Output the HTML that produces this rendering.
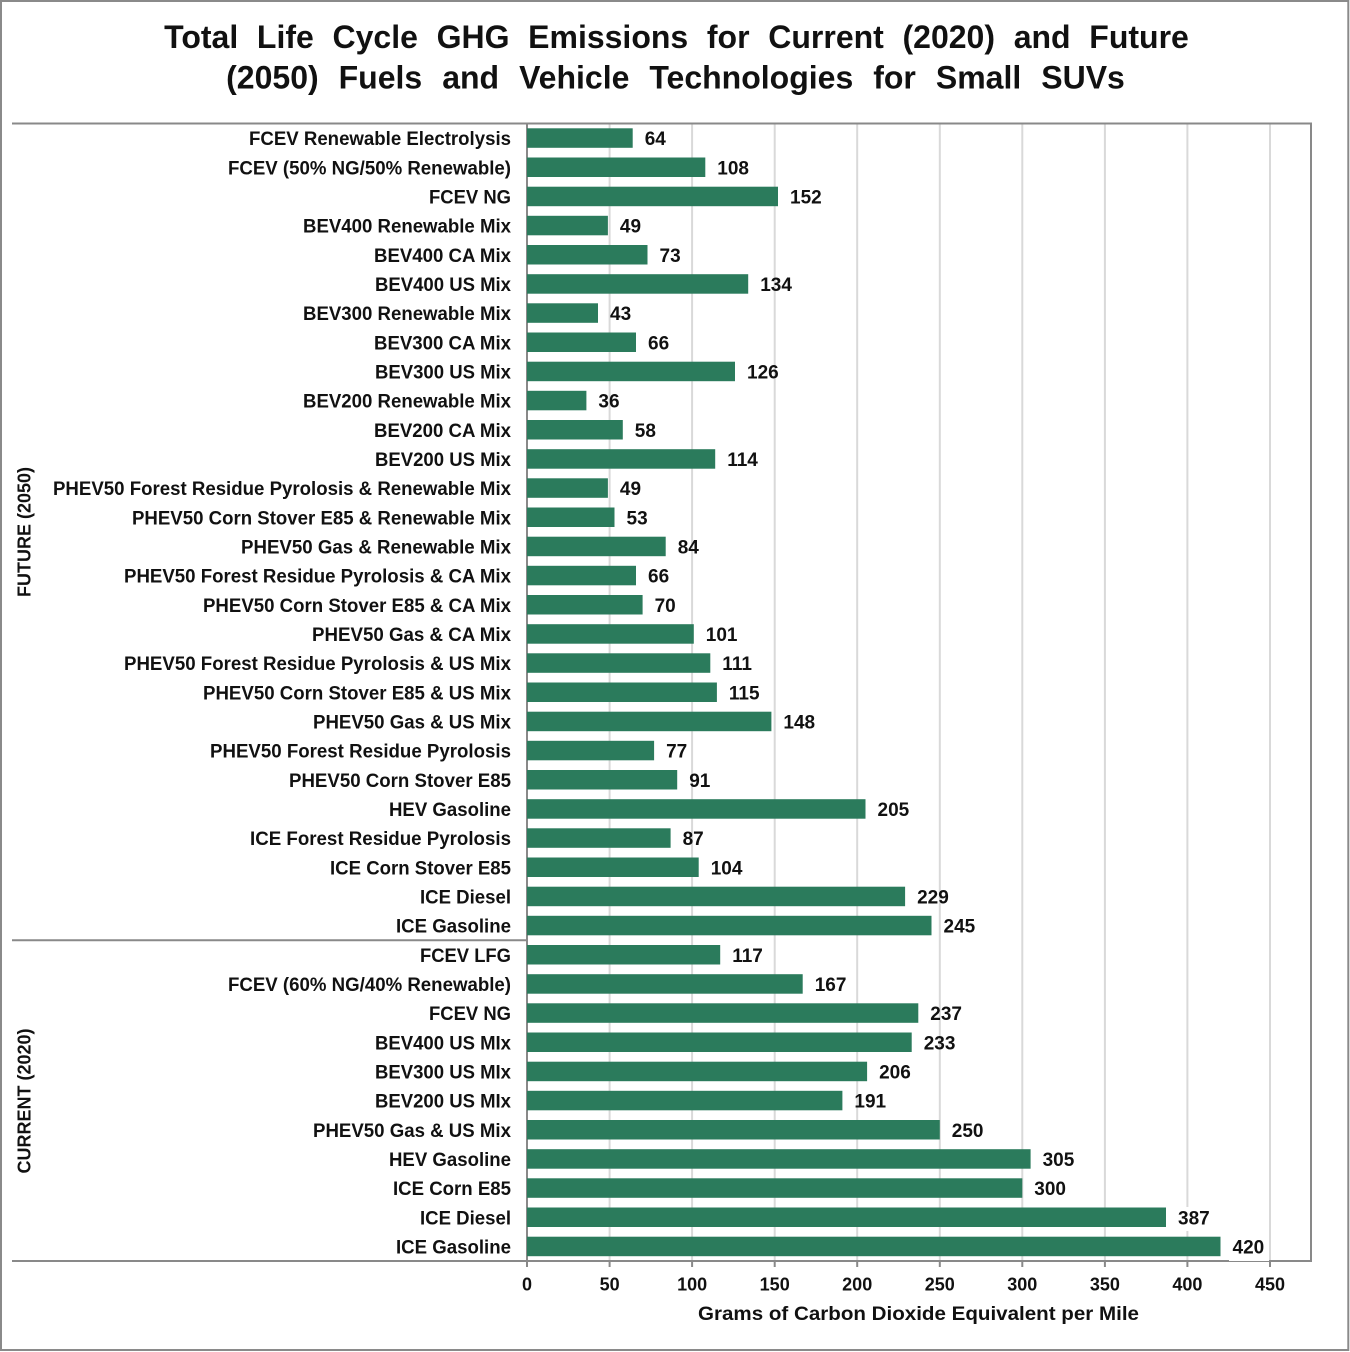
<!DOCTYPE html>
<html>
<head>
<meta charset="utf-8">
<style>
html,body{margin:0;padding:0;background:#fff;}
svg{display:block;}
text{font-family:"Liberation Sans",Arial,sans-serif;font-weight:bold;fill:#111;}
</style>
</head>
<body>
<svg width="1350" height="1352" viewBox="0 0 1350 1352" xmlns="http://www.w3.org/2000/svg">
<rect x="0" y="0" width="1350" height="1352" fill="#fff"/>
<rect x="1" y="1" width="1347.3" height="1349" fill="none" stroke="#8a8a8a" stroke-width="2"/>

<text x="676.5" y="48" font-size="32" text-anchor="middle" style="word-spacing:9.8px">Total Life Cycle GHG Emissions for Current (2020) and Future</text>
<text x="675.5" y="88.5" font-size="32" text-anchor="middle" style="word-spacing:11.1px">(2050) Fuels and Vehicle Technologies for Small SUVs</text>

<g stroke="#d9d9d9" stroke-width="2">
<line x1="609.6" y1="124" x2="609.6" y2="1261"/>
<line x1="692.1" y1="124" x2="692.1" y2="1261"/>
<line x1="774.7" y1="124" x2="774.7" y2="1261"/>
<line x1="857.2" y1="124" x2="857.2" y2="1261"/>
<line x1="939.8" y1="124" x2="939.8" y2="1261"/>
<line x1="1022.3" y1="124" x2="1022.3" y2="1261"/>
<line x1="1104.9" y1="124" x2="1104.9" y2="1261"/>
<line x1="1187.4" y1="124" x2="1187.4" y2="1261"/>
<line x1="1270.0" y1="124" x2="1270.0" y2="1261"/>
</g>

<g id="bars"></g>

<g stroke="#898989" stroke-width="2" fill="none">
<line x1="12" y1="123.5" x2="1312" y2="123.5"/>
<line x1="1311" y1="123" x2="1311" y2="1262"/>
<line x1="12" y1="1261" x2="1312" y2="1261"/>
<line x1="12" y1="940.2" x2="527" y2="940.2"/>
<line x1="527" y1="123" x2="527" y2="1267"/>
<line x1="609.6" y1="1261" x2="609.6" y2="1267"/>
<line x1="692.1" y1="1261" x2="692.1" y2="1267"/>
<line x1="774.7" y1="1261" x2="774.7" y2="1267"/>
<line x1="857.2" y1="1261" x2="857.2" y2="1267"/>
<line x1="939.8" y1="1261" x2="939.8" y2="1267"/>
<line x1="1022.3" y1="1261" x2="1022.3" y2="1267"/>
<line x1="1104.9" y1="1261" x2="1104.9" y2="1267"/>
<line x1="1187.4" y1="1261" x2="1187.4" y2="1267"/>
<line x1="1270.0" y1="1261" x2="1270.0" y2="1267"/>
</g>

<g font-size="18" text-anchor="middle">
<text x="527" y="1290.5">0</text>
<text x="609.6" y="1290.5">50</text>
<text x="692.1" y="1290.5">100</text>
<text x="774.7" y="1290.5">150</text>
<text x="857.2" y="1290.5">200</text>
<text x="939.8" y="1290.5">250</text>
<text x="1022.3" y="1290.5">300</text>
<text x="1104.9" y="1290.5">350</text>
<text x="1187.4" y="1290.5">400</text>
<text x="1270.0" y="1290.5">450</text>
</g>
<text x="698" y="1320" font-size="19" textLength="441" lengthAdjust="spacingAndGlyphs">Grams of Carbon Dioxide Equivalent per Mile</text>

<text transform="translate(30.5,532) rotate(-90)" font-size="18" text-anchor="middle">FUTURE (2050)</text>
<text transform="translate(30.5,1101) rotate(-90)" font-size="18" text-anchor="middle">CURRENT (2020)</text>

<!-- bars generated statically -->
<g fill="#2b7b5c">
<rect x="527" y="128.3" width="105.7" height="19.5"/>
<rect x="527" y="157.5" width="178.3" height="19.5"/>
<rect x="527" y="186.7" width="251.0" height="19.5"/>
<rect x="527" y="215.8" width="80.9" height="19.5"/>
<rect x="527" y="245.0" width="120.5" height="19.5"/>
<rect x="527" y="274.2" width="221.2" height="19.5"/>
<rect x="527" y="303.3" width="71.0" height="19.5"/>
<rect x="527" y="332.5" width="109.0" height="19.5"/>
<rect x="527" y="361.7" width="208.0" height="19.5"/>
<rect x="527" y="390.8" width="59.4" height="19.5"/>
<rect x="527" y="420.0" width="95.8" height="19.5"/>
<rect x="527" y="449.2" width="188.2" height="19.5"/>
<rect x="527" y="478.3" width="80.9" height="19.5"/>
<rect x="527" y="507.5" width="87.5" height="19.5"/>
<rect x="527" y="536.7" width="138.7" height="19.5"/>
<rect x="527" y="565.8" width="109.0" height="19.5"/>
<rect x="527" y="595.0" width="115.6" height="19.5"/>
<rect x="527" y="624.2" width="166.8" height="19.5"/>
<rect x="527" y="653.3" width="183.3" height="19.5"/>
<rect x="527" y="682.5" width="189.9" height="19.5"/>
<rect x="527" y="711.7" width="244.4" height="19.5"/>
<rect x="527" y="740.8" width="127.1" height="19.5"/>
<rect x="527" y="770.0" width="150.2" height="19.5"/>
<rect x="527" y="799.2" width="338.5" height="19.5"/>
<rect x="527" y="828.3" width="143.6" height="19.5"/>
<rect x="527" y="857.5" width="171.7" height="19.5"/>
<rect x="527" y="886.7" width="378.1" height="19.5"/>
<rect x="527" y="915.8" width="404.5" height="19.5"/>
<rect x="527" y="945.0" width="193.2" height="19.5"/>
<rect x="527" y="974.2" width="275.7" height="19.5"/>
<rect x="527" y="1003.3" width="391.3" height="19.5"/>
<rect x="527" y="1032.5" width="384.7" height="19.5"/>
<rect x="527" y="1061.7" width="340.1" height="19.5"/>
<rect x="527" y="1090.8" width="315.4" height="19.5"/>
<rect x="527" y="1120.0" width="412.8" height="19.5"/>
<rect x="527" y="1149.2" width="503.6" height="19.5"/>
<rect x="527" y="1178.3" width="495.3" height="19.5"/>
<rect x="527" y="1207.5" width="639.0" height="19.5"/>
<rect x="527" y="1236.7" width="693.5" height="19.5"/>
</g>

<!-- white backgrounds behind value labels -->
<g fill="#fff">
<rect x="1229" y="1236" width="40" height="25"/>
<rect x="1174" y="1207" width="40" height="24"/>
</g>

<!-- value labels -->
<g font-size="19">
<text x="644.7" y="145.1">64</text>
<text x="717.3" y="174.3">108</text>
<text x="790.0" y="203.4">152</text>
<text x="619.9" y="232.6">49</text>
<text x="659.5" y="261.8">73</text>
<text x="760.2" y="290.9">134</text>
<text x="610.0" y="320.1">43</text>
<text x="648.0" y="349.3">66</text>
<text x="747.0" y="378.4">126</text>
<text x="598.4" y="407.6">36</text>
<text x="634.8" y="436.8">58</text>
<text x="727.2" y="465.9">114</text>
<text x="619.9" y="495.1">49</text>
<text x="626.5" y="524.3">53</text>
<text x="677.7" y="553.4">84</text>
<text x="648.0" y="582.6">66</text>
<text x="654.6" y="611.8">70</text>
<text x="705.8" y="640.9">101</text>
<text x="722.3" y="670.1">111</text>
<text x="728.9" y="699.3">115</text>
<text x="783.4" y="728.4">148</text>
<text x="666.1" y="757.6">77</text>
<text x="689.2" y="786.8">91</text>
<text x="877.5" y="815.9">205</text>
<text x="682.6" y="845.1">87</text>
<text x="710.7" y="874.3">104</text>
<text x="917.1" y="903.4">229</text>
<text x="943.5" y="932.6">245</text>
<text x="732.2" y="961.8">117</text>
<text x="814.7" y="990.9">167</text>
<text x="930.3" y="1020.1">237</text>
<text x="923.7" y="1049.3">233</text>
<text x="879.1" y="1078.4">206</text>
<text x="854.4" y="1107.6">191</text>
<text x="951.8" y="1136.8">250</text>
<text x="1042.6" y="1165.9">305</text>
<text x="1034.3" y="1195.1">300</text>
<text x="1178.0" y="1224.3">387</text>
<text x="1232.5" y="1253.4">420</text>
</g>

<!-- category labels -->
<g font-size="19" text-anchor="end" lengthAdjust="spacingAndGlyphs">
<text x="511" y="145.1" textLength="262" lengthAdjust="spacingAndGlyphs">FCEV Renewable Electrolysis</text>
<text x="511" y="174.3" textLength="283" lengthAdjust="spacingAndGlyphs">FCEV (50% NG/50% Renewable)</text>
<text x="511" y="203.4" textLength="82" lengthAdjust="spacingAndGlyphs">FCEV NG</text>
<text x="511" y="232.6" textLength="208" lengthAdjust="spacingAndGlyphs">BEV400 Renewable Mix</text>
<text x="511" y="261.8" textLength="137" lengthAdjust="spacingAndGlyphs">BEV400 CA Mix</text>
<text x="511" y="290.9" textLength="136" lengthAdjust="spacingAndGlyphs">BEV400 US Mix</text>
<text x="511" y="320.1" textLength="208" lengthAdjust="spacingAndGlyphs">BEV300 Renewable Mix</text>
<text x="511" y="349.3" textLength="137" lengthAdjust="spacingAndGlyphs">BEV300 CA Mix</text>
<text x="511" y="378.4" textLength="136" lengthAdjust="spacingAndGlyphs">BEV300 US Mix</text>
<text x="511" y="407.6" textLength="208" lengthAdjust="spacingAndGlyphs">BEV200 Renewable Mix</text>
<text x="511" y="436.8" textLength="137" lengthAdjust="spacingAndGlyphs">BEV200 CA Mix</text>
<text x="511" y="465.9" textLength="136" lengthAdjust="spacingAndGlyphs">BEV200 US Mix</text>
<text x="511" y="495.1" textLength="458" lengthAdjust="spacingAndGlyphs">PHEV50 Forest Residue Pyrolosis &amp; Renewable Mix</text>
<text x="511" y="524.3" textLength="379" lengthAdjust="spacingAndGlyphs">PHEV50 Corn Stover E85 &amp; Renewable Mix</text>
<text x="511" y="553.4" textLength="270" lengthAdjust="spacingAndGlyphs">PHEV50 Gas &amp; Renewable Mix</text>
<text x="511" y="582.6" textLength="387" lengthAdjust="spacingAndGlyphs">PHEV50 Forest Residue Pyrolosis &amp; CA Mix</text>
<text x="511" y="611.8" textLength="308" lengthAdjust="spacingAndGlyphs">PHEV50 Corn Stover E85 &amp; CA Mix</text>
<text x="511" y="640.9" textLength="199" lengthAdjust="spacingAndGlyphs">PHEV50 Gas &amp; CA Mix</text>
<text x="511" y="670.1" textLength="387" lengthAdjust="spacingAndGlyphs">PHEV50 Forest Residue Pyrolosis &amp; US Mix</text>
<text x="511" y="699.3" textLength="308" lengthAdjust="spacingAndGlyphs">PHEV50 Corn Stover E85 &amp; US Mix</text>
<text x="511" y="728.4" textLength="198" lengthAdjust="spacingAndGlyphs">PHEV50 Gas &amp; US Mix</text>
<text x="511" y="757.6" textLength="301" lengthAdjust="spacingAndGlyphs">PHEV50 Forest Residue Pyrolosis</text>
<text x="511" y="786.8" textLength="222" lengthAdjust="spacingAndGlyphs">PHEV50 Corn Stover E85</text>
<text x="511" y="815.9" textLength="122" lengthAdjust="spacingAndGlyphs">HEV Gasoline</text>
<text x="511" y="845.1" textLength="261" lengthAdjust="spacingAndGlyphs">ICE Forest Residue Pyrolosis</text>
<text x="511" y="874.3" textLength="181" lengthAdjust="spacingAndGlyphs">ICE Corn Stover E85</text>
<text x="511" y="903.4" textLength="91" lengthAdjust="spacingAndGlyphs">ICE Diesel</text>
<text x="511" y="932.6" textLength="115" lengthAdjust="spacingAndGlyphs">ICE Gasoline</text>
<text x="511" y="961.8" textLength="91" lengthAdjust="spacingAndGlyphs">FCEV LFG</text>
<text x="511" y="990.9" textLength="283" lengthAdjust="spacingAndGlyphs">FCEV (60% NG/40% Renewable)</text>
<text x="511" y="1020.1" textLength="82" lengthAdjust="spacingAndGlyphs">FCEV NG</text>
<text x="511" y="1049.3" textLength="136" lengthAdjust="spacingAndGlyphs">BEV400 US MIx</text>
<text x="511" y="1078.4" textLength="136" lengthAdjust="spacingAndGlyphs">BEV300 US MIx</text>
<text x="511" y="1107.6" textLength="136" lengthAdjust="spacingAndGlyphs">BEV200 US MIx</text>
<text x="511" y="1136.8" textLength="198" lengthAdjust="spacingAndGlyphs">PHEV50 Gas &amp; US Mix</text>
<text x="511" y="1165.9" textLength="122" lengthAdjust="spacingAndGlyphs">HEV Gasoline</text>
<text x="511" y="1195.1" textLength="118" lengthAdjust="spacingAndGlyphs">ICE Corn E85</text>
<text x="511" y="1224.3" textLength="91" lengthAdjust="spacingAndGlyphs">ICE Diesel</text>
<text x="511" y="1253.4" textLength="115" lengthAdjust="spacingAndGlyphs">ICE Gasoline</text>
</g>
</svg>
</body>
</html>
